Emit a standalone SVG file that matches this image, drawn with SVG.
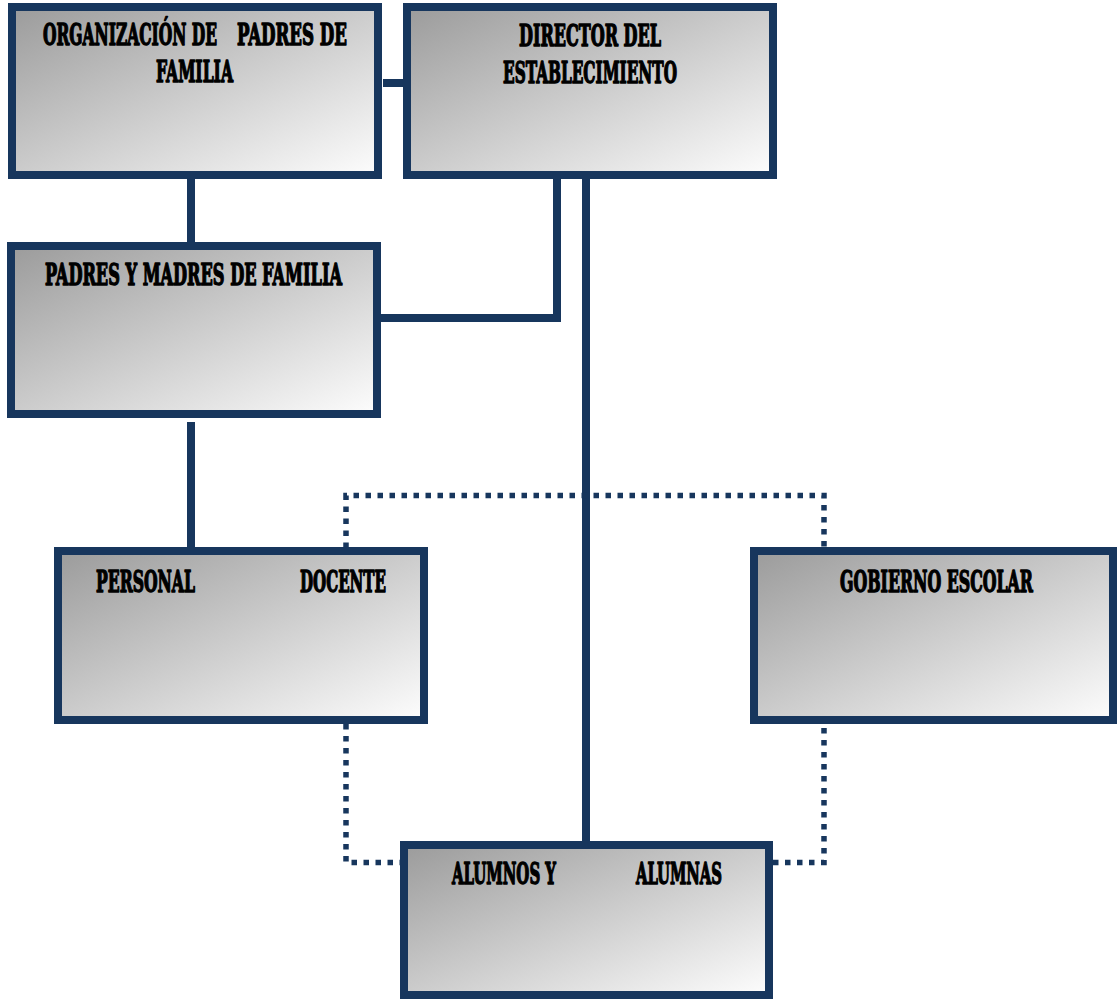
<svg xmlns="http://www.w3.org/2000/svg" width="1117" height="999" viewBox="0 0 1117 999">
<defs>
<linearGradient id="g" x1="0" y1="0" x2="1" y2="1">
<stop offset="0" stop-color="#9b9b9b"/>
<stop offset="1" stop-color="#fdfdfd"/>
</linearGradient>
</defs>
<style>
.box{fill:url(#g);stroke:#17365d;stroke-width:8}
.ln{stroke:#17365d;stroke-width:8;fill:none}
.dot{stroke:#17365d;stroke-width:5.5;fill:none;stroke-dasharray:5.5 6.5}
.t{font-family:'DejaVu Serif Condensed','DejaVu Serif','Liberation Serif',serif;font-weight:bold;font-size:29px;fill:#000;stroke:#000;stroke-width:1.4;stroke-linejoin:round}
</style>
<rect width="1117" height="999" fill="#fff"/>
<g id="connectors">
<line class="ln" x1="383" y1="83" x2="403" y2="83"/>
<line class="ln" x1="191" y1="179" x2="191" y2="242"/>
<polyline class="ln" points="557,179 557,318 381,318"/>
<line class="ln" x1="586" y1="179" x2="586" y2="841"/>
<line class="ln" x1="191" y1="422" x2="191" y2="547"/>
<polyline class="dot" points="346,548 346,495.5 824,495.5 824,548"/>
<polyline class="dot" points="346,724 346,862.5 400,862.5"/>
<polyline class="dot" points="773,862.5 824,862.5 824,724"/>
</g>
<g id="org-padres">
<rect class="box" x="12" y="7" width="366" height="168"/>
<text class="t" transform="translate(43 45) scale(0.7 1)" textLength="248.6" lengthAdjust="spacingAndGlyphs">ORGANIZACIÓN DE</text>
<text class="t" transform="translate(237 45) scale(0.7 1)" textLength="157.1" lengthAdjust="spacingAndGlyphs">PADRES DE</text>
<text class="t" transform="translate(156 82) scale(0.7 1)" textLength="110" lengthAdjust="spacingAndGlyphs">FAMILIA</text>
</g>
<g id="director">
<rect class="box" x="407" y="7" width="366" height="168"/>
<text class="t" transform="translate(519 46) scale(0.7 1)" textLength="202.9" lengthAdjust="spacingAndGlyphs">DIRECTOR DEL</text>
<text class="t" transform="translate(503 83) scale(0.7 1)" textLength="248.6" lengthAdjust="spacingAndGlyphs">ESTABLECIMIENTO</text>
</g>
<g id="padres-madres">
<rect class="box" x="11" y="246" width="366" height="168"/>
<text class="t" transform="translate(45 285) scale(0.7 1)" textLength="424.3" lengthAdjust="spacingAndGlyphs">PADRES Y MADRES DE FAMILIA</text>
</g>
<g id="personal-docente">
<rect class="box" x="58" y="551" width="366" height="169"/>
<text class="t" transform="translate(96 592) scale(0.7 1)" textLength="141.4" lengthAdjust="spacingAndGlyphs">PERSONAL</text>
<text class="t" transform="translate(300 592) scale(0.7 1)" textLength="122.9" lengthAdjust="spacingAndGlyphs">DOCENTE</text>
</g>
<g id="gobierno-escolar">
<rect class="box" x="754" y="551" width="359" height="169"/>
<text class="t" transform="translate(840 592) scale(0.7 1)" textLength="275.7" lengthAdjust="spacingAndGlyphs">GOBIERNO ESCOLAR</text>
</g>
<g id="alumnos">
<rect class="box" x="404" y="845" width="365" height="150"/>
<text class="t" transform="translate(452 884) scale(0.7 1)" textLength="148.6" lengthAdjust="spacingAndGlyphs">ALUMNOS Y</text>
<text class="t" transform="translate(636 884) scale(0.7 1)" textLength="122.9" lengthAdjust="spacingAndGlyphs">ALUMNAS</text>
</g>
</svg>
